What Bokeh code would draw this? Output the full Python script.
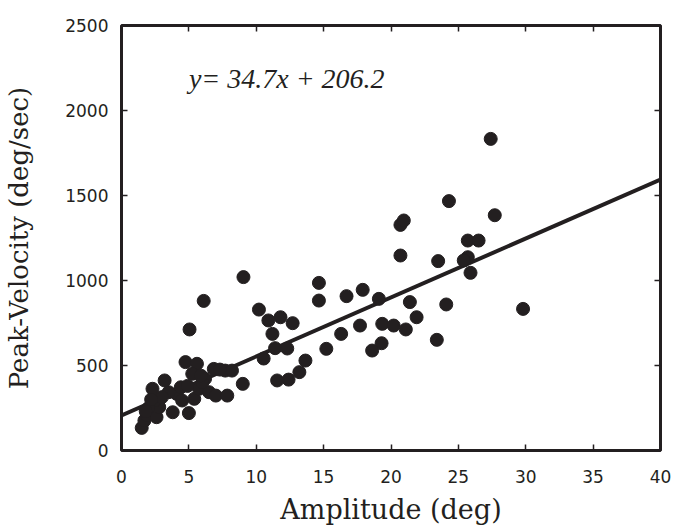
from bokeh.plotting import figure
from bokeh.models import LinearAxis, Range1d, SingleIntervalTicker, Label
from bokeh.embed import file_html
from bokeh.resources import INLINE

# Data
amplitude = [
    1.5, 1.7, 1.9, 2.3, 2.6, 2.8, 2.5, 3.2, 3.8, 5.0, 4.1, 4.4, 4.75, 5.6, 5.25, 4.5, 5.4, 5.75,
    6.2, 6.85, 7.7, 8.2, 6.5, 7.0, 7.85, 9.0, 3.5, 3.0, 2.0, 2.2, 6.0, 5.9, 4.9, 7.3, 1.8,
    5.05, 6.1, 9.05,
    10.2, 10.9, 11.8, 12.7, 11.2, 11.4, 12.3, 10.55, 13.65, 13.2, 12.4, 11.55,
    14.65, 14.65, 15.2, 16.3, 16.7, 17.9, 19.1, 17.7, 19.35, 20.2, 21.1, 19.3, 18.6, 20.7, 21.4, 21.9,
    27.4, 24.3, 20.7, 20.95, 27.7, 25.7, 26.5, 25.7, 25.4, 25.9, 23.5, 29.8, 24.1, 23.4,
]
peak_velocity = [
    133, 176, 206, 363, 196, 255, 294, 412, 225, 220, 333, 372, 520, 510, 451, 294, 304, 363,
    422, 480, 470, 470, 343, 323, 323, 392, 343, 314, 250, 300, 400, 440, 380, 476, 230,
    712, 880, 1020,
    829, 765, 784, 749, 686, 602, 600, 541, 529, 461, 417, 412,
    986, 882, 598, 686, 908, 945, 892, 735, 745, 735, 712, 631, 588, 1147, 873, 784,
    1833, 1467, 1327, 1353, 1384, 1235, 1235, 1137, 1118, 1045, 1114, 833, 859, 651,
]
slope = 34.7
intercept = 206.2
fit_x = [0, 40]
fit_y = [intercept + slope * v for v in fit_x]
equation = "y= 34.7x + 206.2"
x_title = "Amplitude (deg)"
y_title = "Peak-Velocity (deg/sec)"

INK = "#231f20"

p = figure(width=679, height=529, output_backend="svg", toolbar_location=None,
           x_range=Range1d(0, 40), y_range=Range1d(0, 2500),
           min_border_left=121, min_border_right=19, min_border_top=25, min_border_bottom=79,
           x_axis_location=None, y_axis_location=None)
p.grid.visible = False
p.outline_line_color = INK
p.outline_line_width = 3
p.background_fill_color = "white"
p.border_fill_color = "white"

tick_font = "DejaVu Sans"
title_font = "DejaVu Serif"

xa = LinearAxis(ticker=SingleIntervalTicker(interval=5, num_minor_ticks=0))
ya = LinearAxis(ticker=SingleIntervalTicker(interval=500, num_minor_ticks=0))
xt = LinearAxis(ticker=SingleIntervalTicker(interval=5, num_minor_ticks=0))
yr = LinearAxis(ticker=SingleIntervalTicker(interval=500, num_minor_ticks=0))
for ax in (xa, ya, xt, yr):
    ax.axis_line_color = None
    ax.major_tick_in = 6
    ax.major_tick_out = 0
    ax.major_tick_line_color = INK
    ax.major_tick_line_width = 1.5
    ax.minor_tick_line_color = None
    ax.major_label_text_font = tick_font
    ax.major_label_text_font_size = "17px"
    ax.major_label_text_color = INK
    ax.axis_label_text_font = title_font
    ax.axis_label_text_font_style = "normal"
    ax.axis_label_text_color = INK
for ax in (xt, yr):
    ax.major_label_text_font_size = "0px"
    ax.major_label_text_color = None

xa.axis_label = x_title
xa.axis_label_text_font_size = "27px"
xa.major_label_standoff = 19
xa.axis_label_standoff = 8
ya.axis_label = y_title
ya.axis_label_text_font_size = "26px"
ya.major_label_standoff = 13
ya.axis_label_standoff = 28

p.add_layout(xa, "below")
p.add_layout(ya, "left")
p.add_layout(xt, "above")
p.add_layout(yr, "right")

p.line(fit_x, fit_y, line_color=INK, line_width=4)
p.scatter(amplitude, peak_velocity, size=13, fill_color=INK, line_color=INK)

p.add_layout(Label(x=5.0, y=2190, text=equation, text_font="Liberation Serif",
                   text_font_style="italic", text_font_size="28px", text_color=INK,
                   text_baseline="middle", text_align="left"))

open("out.html", "w").write(file_html(p, INLINE))
